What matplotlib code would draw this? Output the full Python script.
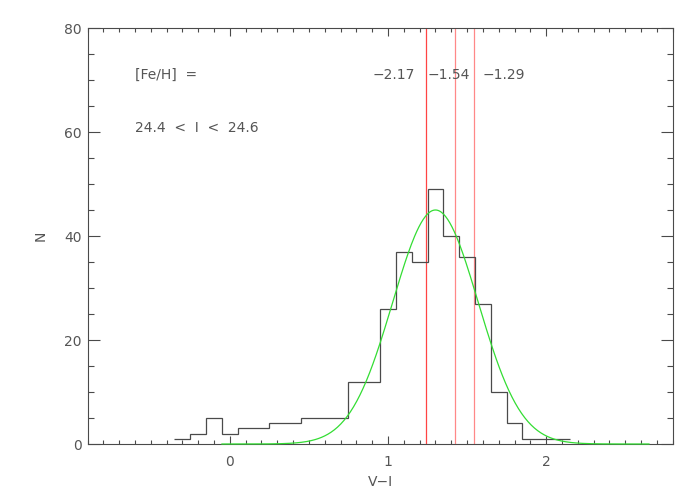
import numpy as np
import matplotlib
matplotlib.use("Agg")
import matplotlib.pyplot as plt
from matplotlib.ticker import MultipleLocator

# histogram of V-I colours, bin width 0.1
bin_edges = [-0.35, -0.25, -0.15, -0.05, 0.05, 0.15, 0.25, 0.35, 0.45, 0.55,
             0.65, 0.75, 0.85, 0.95, 1.05, 1.15, 1.25, 1.35, 1.45, 1.55,
             1.65, 1.75, 1.85, 1.95, 2.05, 2.15]
counts = [1, 2, 5, 2, 3, 3, 4, 4, 5, 5,
          5, 12, 12, 26, 37, 35, 49, 40, 36, 27,
          10, 4, 1, 1, 1]

# gaussian fit parameters
fit_amp = 45.0
fit_mean = 1.30
fit_sigma = 0.27
fit_range = (-0.05, 2.65)

# isochrone colours for the metallicities
feh_lines = [1.243, 1.425, 1.545]
feh_labels = ["\u22122.17", "\u22121.54", "\u22121.29"]
feh_label_x = [0.90, 1.25, 1.60]

grey = "#4a4a4a"
tgrey = "#555555"
plt.rcParams["font.family"] = "DejaVu Sans"
plt.rcParams["font.size"] = 10

fig = plt.figure(figsize=(7, 5), dpi=100)
ax = fig.add_axes([0.125, 0.112, 0.836, 0.832])

ax.stairs(counts, bin_edges, baseline=None, color=grey, lw=0.9, zorder=3)

xg = np.linspace(fit_range[0], fit_range[1], 400)
ax.plot(xg, fit_amp * np.exp(-(xg - fit_mean) ** 2 / (2 * fit_sigma ** 2)),
        color="#33dd33", lw=0.9, zorder=4, clip_on=False)

ax.axvline(feh_lines[0], color="#ff4444", lw=0.9)
for xv in feh_lines[1:]:
    ax.axvline(xv, color="#ff8888", lw=0.9)

ax.text(-0.6, 71, "[Fe/H]  =", color=tgrey, va="center", ha="left")
for lab, xl in zip(feh_labels, feh_label_x):
    ax.text(xl, 71, lab, color=tgrey, va="center", ha="left")
ax.text(-0.6, 60.8, "24.4  <  I  <  24.6", color=tgrey, va="center", ha="left")

ax.set_xlim(-0.9, 2.8)
ax.set_ylim(0, 80)
ax.xaxis.set_major_locator(MultipleLocator(1))
ax.xaxis.set_minor_locator(MultipleLocator(0.1))
ax.yaxis.set_major_locator(MultipleLocator(20))
ax.yaxis.set_minor_locator(MultipleLocator(5))

ax.tick_params(axis="both", which="both", direction="in", top=True, right=True,
               colors=grey, labelcolor=tgrey, width=0.8)
ax.tick_params(axis="x", which="major", length=5.8, pad=8)
ax.tick_params(axis="x", which="minor", length=2.9)
ax.tick_params(axis="y", which="major", length=8.6, pad=4)
ax.tick_params(axis="y", which="minor", length=4.3)
for s in ax.spines.values():
    s.set_color(grey)
    s.set_linewidth(0.8)

ax.set_xlabel("V\u2212I", color=tgrey, labelpad=4)
ax.set_ylabel("N", color=tgrey, labelpad=12)

fig.savefig("out.png", dpi=100)
